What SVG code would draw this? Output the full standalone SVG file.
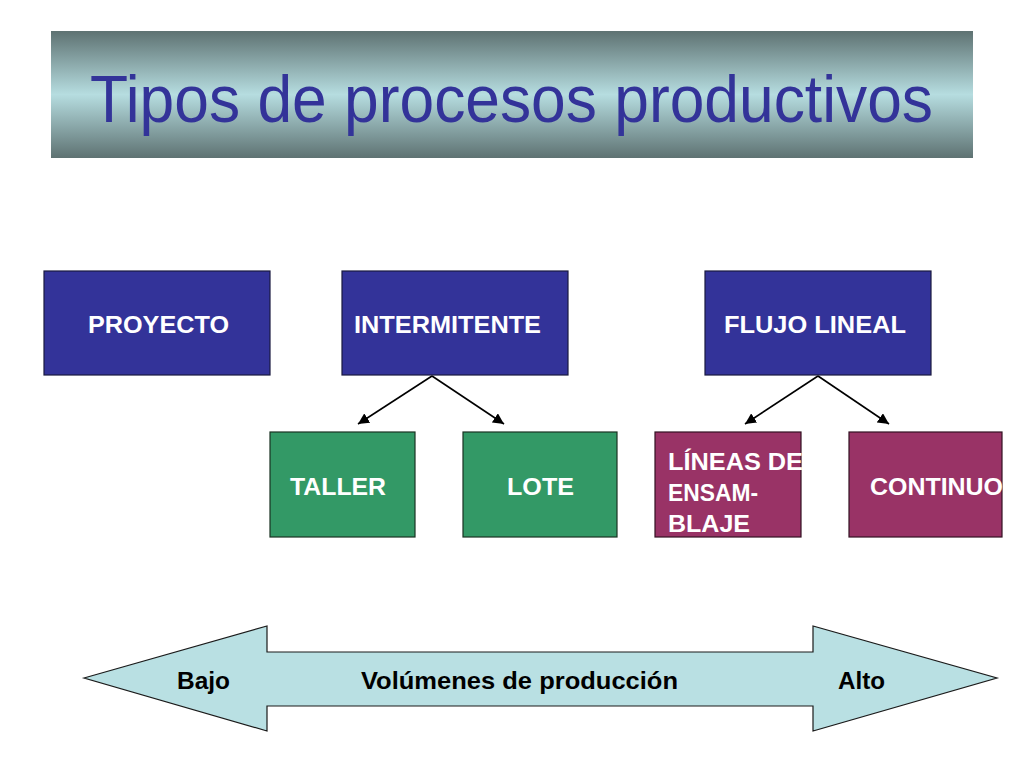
<svg xmlns="http://www.w3.org/2000/svg" width="1024" height="768" viewBox="0 0 1024 768">
<defs>
<linearGradient id="tg" x1="0" y1="0" x2="0" y2="1">
<stop offset="0" stop-color="#5e7272"/>
<stop offset="0.5" stop-color="#b6dde0"/>
<stop offset="1" stop-color="#5e7272"/>
</linearGradient>
<marker id="ah" viewBox="0 0 10 10" refX="10" refY="5" markerWidth="11" markerHeight="11" markerUnits="userSpaceOnUse" orient="auto">
<path d="M0,0 L10,5 L0,10 z" fill="#000"/>
</marker>
</defs>
<style>
.b{fill:#333399;stroke:#1a1a40;stroke-width:1.2}
.g{fill:#339966;stroke:#1a3322;stroke-width:1.2}
.m{fill:#993366;stroke:#331122;stroke-width:1.2}
.t{font-family:"Liberation Sans",Arial,sans-serif;font-weight:bold;font-size:24px;fill:#fff}
.k{font-family:"Liberation Sans",Arial,sans-serif;font-weight:bold;font-size:24px;fill:#000}
.c{stroke:#000;stroke-width:1.6;fill:none;marker-end:url(#ah)}
</style>
<rect width="1024" height="768" fill="#fff"/>
<g id="title">
<rect x="51" y="31" width="922" height="127" fill="url(#tg)"/>
<text x="90" y="122" font-family="Liberation Sans,Arial,sans-serif" font-size="66" fill="#333399" textLength="843" lengthAdjust="spacingAndGlyphs">Tipos de procesos productivos</text>
</g>
<g id="proyecto"><rect class="b" x="44" y="271" width="226" height="104"/><text class="t" x="88" y="333" textLength="141" lengthAdjust="spacingAndGlyphs">PROYECTO</text></g>
<g id="intermitente"><rect class="b" x="342" y="271" width="226" height="104"/><text class="t" x="354" y="333" textLength="187" lengthAdjust="spacingAndGlyphs">INTERMITENTE</text></g>
<g id="flujo"><rect class="b" x="705" y="271" width="226" height="104"/><text class="t" x="724" y="333" textLength="182" lengthAdjust="spacingAndGlyphs">FLUJO LINEAL</text></g>
<g id="taller"><rect class="g" x="270" y="432" width="145" height="105"/><text class="t" x="290" y="495" textLength="96" lengthAdjust="spacingAndGlyphs">TALLER</text></g>
<g id="lote"><rect class="g" x="463" y="432" width="154" height="105"/><text class="t" x="507" y="495" textLength="67" lengthAdjust="spacingAndGlyphs">LOTE</text></g>
<g id="lineas"><rect class="m" x="655" y="432" width="146" height="105"/>
<text class="t" x="668" y="470" textLength="135" lengthAdjust="spacingAndGlyphs">LÍNEAS DE</text>
<text class="t" x="668" y="501" textLength="90" lengthAdjust="spacingAndGlyphs">ENSAM-</text>
<text class="t" x="668" y="532" textLength="82" lengthAdjust="spacingAndGlyphs">BLAJE</text></g>
<g id="continuo"><rect class="m" x="849" y="432" width="153" height="105"/><text class="t" x="870" y="495" textLength="133" lengthAdjust="spacingAndGlyphs">CONTINUO</text></g>
<g id="connectors">
<line class="c" x1="432" y1="376" x2="358" y2="424"/>
<line class="c" x1="432" y1="376" x2="504" y2="424"/>
<line class="c" x1="818" y1="376" x2="745" y2="424"/>
<line class="c" x1="818" y1="376" x2="889" y2="424"/>
</g>
<g id="volumen">
<polygon points="84,678 267,626 267,652 813,652 813,626 997,678 813,731 813,706 267,706 267,731" fill="#b9e0e3" stroke="#1a1a1a" stroke-width="1.2"/>
<text class="k" x="177" y="689" textLength="53" lengthAdjust="spacingAndGlyphs">Bajo</text>
<text class="k" x="361" y="689" textLength="317" lengthAdjust="spacingAndGlyphs">Volúmenes de producción</text>
<text class="k" x="838" y="689" textLength="47" lengthAdjust="spacingAndGlyphs">Alto</text>
</g>
</svg>
